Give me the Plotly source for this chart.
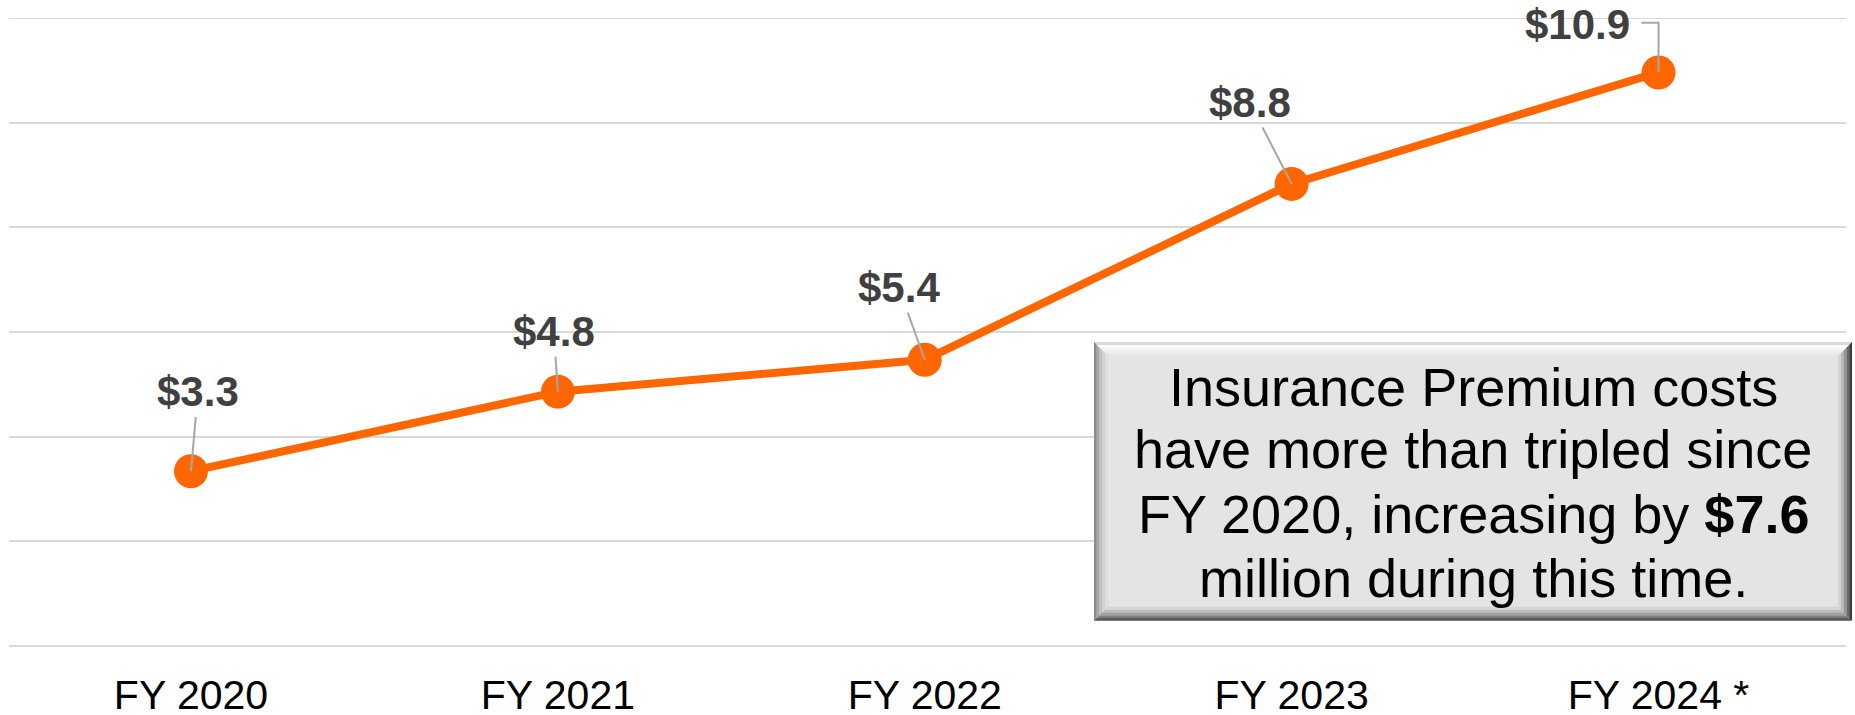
import plotly.graph_objects as go

# ---- data ----
categories = ["FY 2020", "FY 2021", "FY 2022", "FY 2023", "FY 2024 *"]
values = [3.34, 4.86, 5.47, 8.83, 10.96]
value_labels = ["$3.3", "$4.8", "$5.4", "$8.8", "$10.9"]
y_ticks = [0, 2, 4, 6, 8, 10, 12]
callout_lines = [
    "Insurance Premium costs",
    "have more than tripled since",
    "FY 2020, increasing by <b>$7.6</b>",
    "million during this time.",
]

# ---- layout geometry (pixels) ----
# the captured page area is slightly taller than the final picture, so vertical
# pixel targets are expressed in picture pixels and stretched by K
K = 727 / 715
W, H = 1855, 727
L, R, T, B = 9, 9, 18, 72
PW, PH = W - L - R, H - T - B
FONT = "Arial, 'Liberation Sans', sans-serif"
ORANGE = "#FF6600"
LEADER = "#A6A6A6"


def px(x):  # picture x pixel -> paper
    return (x - L) / PW


def py(y):  # picture y pixel -> paper
    return 1 - (y * K - T) / PH


fig = go.Figure()
fig.add_trace(go.Scatter(
    x=categories, y=values, mode="lines+markers",
    line=dict(color=ORANGE, width=8),
    marker=dict(color=ORANGE, size=34),
    hoverinfo="skip", showlegend=False,
))

annotations = []
offsets = [(7, -78), (-4, -59), (-26, -71), (-42, -80)]
for i, (ax, ay) in enumerate(offsets):
    annotations.append(dict(
        x=categories[i], y=values[i], xref="x", yref="y",
        text="<b>%s</b>" % value_labels[i], showarrow=True,
        ax=ax, ay=ay * K, arrowhead=0, arrowwidth=2, arrowcolor=LEADER,
        standoff=0, startstandoff=0,
        font=dict(family=FONT, size=42, color="#404040"),
    ))
annotations.append(dict(
    x=categories[4], y=values[4], xref="x", yref="y",
    text="<b>%s</b>" % value_labels[4], showarrow=False,
    xshift=-81, yshift=47 * K,
    font=dict(family=FONT, size=42, color="#404040"),
))

shapes = [
    dict(type="line", xref="paper", yref="y", x0=0, x1=1, y0=y_ticks[-1], y1=y_ticks[-1],
         line=dict(color="#D9D9D9", width=2), layer="below"),
    dict(type="path", xref="x", yref="y", xsizemode="pixel", ysizemode="pixel",
         xanchor=4, yanchor=values[4], path="M 0 0 L 0 %.1f L -17 %.1f" % (49 * K, 49 * K),
         line=dict(color=LEADER, width=2), layer="above"),
]

# ---- bevelled callout box (picture pixels) ----
bx0, by0, bx1, by1 = 1094, 341, 1852, 619
bev = 14
n = 5
bw = bev / n


def poly(pts):
    return "M " + " L ".join("%.5f %.5f" % (px(x), py(y)) for x, y in pts) + " Z"


shapes.append(dict(type="path", xref="paper", yref="paper",
                   path=poly([(bx0, by0), (bx1, by0), (bx1, by1), (bx0, by1)]),
                   fillcolor="#E4E4E4", line=dict(width=0), layer="above"))
top_c = ["#DADADA", "#FCFCFC", "#F7F7F7", "#EFEFEF", "#E8E8E8"]
left_c = ["#8C8C8C", "#A8A8A8", "#C0C0C0", "#D2D2D2", "#DEDEDE"]
bot_c = ["#5A5A5A", "#7E7E7E", "#A0A0A0", "#BCBCBC", "#D4D4D4"]
right_c = ["#3A3A3A", "#666666", "#929292", "#B8B8B8", "#D4D4D4"]
for k in range(n):
    d0, d1 = k * bw, (k + 1) * bw
    polys = [
        ([(bx0 + d0, by0 + d0), (bx1 - d0, by0 + d0), (bx1 - d1, by0 + d1), (bx0 + d1, by0 + d1)], top_c[k]),
        ([(bx0 + d0, by0 + d0), (bx0 + d1, by0 + d1), (bx0 + d1, by1 - d1), (bx0 + d0, by1 - d0)], left_c[k]),
        ([(bx0 + d0, by1 - d0), (bx1 - d0, by1 - d0), (bx1 - d1, by1 - d1), (bx0 + d1, by1 - d1)], bot_c[k]),
        ([(bx1 - d0, by0 + d0), (bx1 - d0, by1 - d0), (bx1 - d1, by1 - d1), (bx1 - d1, by0 + d1)], right_c[k]),
    ]
    for pts, c in polys:
        shapes.append(dict(type="path", xref="paper", yref="paper", path=poly(pts),
                           fillcolor=c, line=dict(width=0), layer="above"))

line_y = [386, 448, 513, 576]
cx = (bx0 + bx1) / 2
for txt, yy in zip(callout_lines, line_y):
    annotations.append(dict(
        x=px(cx), y=py(yy), xref="paper", yref="paper", text=txt,
        showarrow=False, xanchor="center", yanchor="middle",
        font=dict(family=FONT, size=54, color="#000000"),
    ))

fig.update_layout(
    width=W, height=H,
    margin=dict(l=L, r=R, t=T, b=B, pad=0),
    paper_bgcolor="white", plot_bgcolor="white",
    showlegend=False, hovermode=False,
    annotations=annotations, shapes=shapes,
    xaxis=dict(
        type="category", range=[-0.496, 4.511],
        showgrid=False, zeroline=False, showline=False, ticks="",
        tickfont=dict(family=FONT, size=41, color="#000000"),
        ticklabelstandoff=21, fixedrange=True,
    ),
    yaxis=dict(
        range=[0, 12], tickvals=y_ticks, showticklabels=False,
        showgrid=True, gridcolor="#D9D9D9", gridwidth=2,
        zeroline=True, zerolinecolor="#D9D9D9", zerolinewidth=2,
        showline=False, ticks="", fixedrange=True,
    ),
)

# pin the chart to the top-left corner of the page (no body margin, no scrollbars)
pin = (
    "document.documentElement.style.overflow='hidden';"
    "document.body.style.margin='0';document.body.style.overflow='hidden';"
    "var gd=document.getElementById('{plot_id}');"
    "gd.style.position='fixed';gd.style.left='0px';gd.style.top='0px';"
)
fig.write_html("out.html", config={"displayModeBar": False}, post_script=pin)
